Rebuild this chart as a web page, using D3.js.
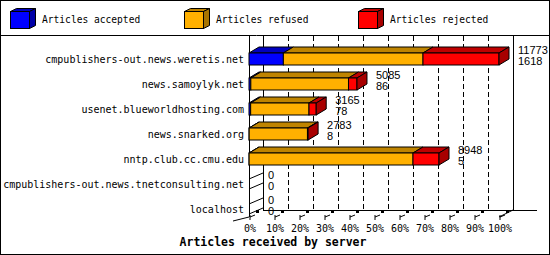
<!DOCTYPE html>
<html>
<head>
<meta charset="utf-8">
<script src="https://cdn.jsdelivr.net/npm/d3@7"></script>
<style>
body { margin: 0; background: #fff; }
text { font-family: "DejaVu Sans Mono", monospace; }
</style>
</head>
<body>
<div id="container"></div>
<script>
// data
var hosts = ["cmpublishers-out.news.weretis.net", "news.samoylyk.net", "usenet.blueworldhosting.com",
	"news.snarked.org", "nntp.club.cc.cmu.edu", "cmpublishers-out.news.tnetconsulting.net", "localhost"];
var offered  = [11773, 5085, 3165, 2783, 8948, 0, 0];
var accepted = [1618, 86, 78, 8, 5, 0, 0];
var refused  = [6576, 4599, 2747, 2745, 7718, 0, 0];
var rejected = [3579, 400, 340, 30, 1225, 0, 0];
var tickPercents = [0, 10, 20, 30, 40, 50, 60, 70, 80, 90, 100];
var legendLabels = ["Articles accepted", "Articles refused", "Articles rejected"];
var keys = ["accepted", "refused", "rejected"];

// colors: front / top / side
var colors = {
	accepted: {front: "#0000ff", top: "#0000bf", side: "#0000a8"},
	refused:  {front: "#ffb000", top: "#bf8400", side: "#a87400"},
	rejected: {front: "#ff0000", top: "#bf0000", side: "#a80000"}
};

var W = 550, H = 255;
var left = 249, right = 499, dx = 14, dy = 7;   // chart depth
var bdx = 10, bdy = 6, bh = 6;                  // bar depth and half height
var plotTop = 36, floorY = 210;

var svg = d3.select("#container").append("svg")
	.attr("width", W)
	.attr("height", H)
	.style("display", "block");

// frame
svg.append("rect").attr("x", 0.5).attr("y", 0.5).attr("width", W - 1).attr("height", H - 1)
	.attr("fill", "#fff").attr("stroke", "#000");
svg.append("line").attr("x1", 0).attr("x2", W).attr("y1", 35.5).attr("y2", 35.5).attr("stroke", "#000");

// legend
var legend = svg.selectAll(".legend")
	.data(keys).enter()
	.append("g")
		.attr("class", "legend")
		.attr("transform", function(d, i) { return "translate(" + (10 + i * 174) + ",0)"; });

legend.append("polygon")
	.attr("points", "0.5,11.5 6.5,8.5 25.5,8.5 19.5,11.5")
	.attr("fill", function(d) { return colors[d].top; }).attr("stroke", "#000");
legend.append("polygon")
	.attr("points", "19.5,11.5 25.5,8.5 25.5,25.5 19.5,28.5")
	.attr("fill", function(d) { return colors[d].side; }).attr("stroke", "#000");
legend.append("rect")
	.attr("x", 0.5).attr("y", 11.5).attr("width", 19).attr("height", 17)
	.attr("fill", function(d) { return colors[d].front; }).attr("stroke", "#000");
legend.append("text")
	.attr("x", 32).attr("y", 20)
	.attr("dy", "0.35em")
	.style("font-size", "9.6px")
	.text(function(d, i) { return legendLabels[i]; });

// scales
var x = d3.scaleLinear().domain([0, 100]).range([left, right]);
var xv = d3.scaleLinear().domain([0, d3.max(offered)]).range([left, right]);
var y = d3.scalePoint().domain(hosts).range([59, 209]);

// back wall grid
svg.selectAll(".grid")
	.data(tickPercents.slice(1, -1)).enter()
	.append("line")
		.attr("class", "grid")
		.attr("x1", function(d) { return Math.round(x(d)) + dx + 0.5; })
		.attr("x2", function(d) { return Math.round(x(d)) + dx + 0.5; })
		.attr("y1", plotTop).attr("y2", floorY)
		.attr("stroke", "#000")
		.attr("stroke-dasharray", "5,3");

// walls
svg.append("line").attr("x1", left + dx + 0.5).attr("x2", left + dx + 0.5)
	.attr("y1", plotTop).attr("y2", floorY).attr("stroke", "#000");
svg.append("line").attr("x1", right + dx + 0.5).attr("x2", right + dx + 0.5)
	.attr("y1", plotTop).attr("y2", floorY).attr("stroke", "#000");
svg.append("line").attr("x1", left + 0.5).attr("x2", left + 0.5)
	.attr("y1", plotTop).attr("y2", floorY + dy).attr("stroke", "#000");
svg.append("line").attr("x1", left + dx).attr("x2", 537)
	.attr("y1", floorY + 0.5).attr("y2", floorY + 0.5).attr("stroke", "#000");
svg.append("line").attr("x1", right).attr("x2", right + dx)
	.attr("y1", floorY + dy).attr("y2", floorY).attr("stroke", "#000");
svg.append("line").attr("x1", 233).attr("x2", left)
	.attr("y1", 221).attr("y2", floorY + dy).attr("stroke", "#000");

// category labels
svg.selectAll(".host")
	.data(hosts).enter()
	.append("text")
		.attr("class", "host")
		.attr("x", 244)
		.attr("y", function(d) { return y(d); })
		.attr("dy", "0.35em")
		.style("font-size", "10px")
		.style("text-anchor", "end")
		.text(function(d) { return d; });

// stacked 3d bars
var rows = hosts.map(function(h, i) {
	return {host: h, accepted: accepted[i], refused: refused[i], rejected: rejected[i]};
});
var series = d3.stack().keys(keys)(rows);
var bars = svg.append("g").attr("class", "bars");

series.forEach(function(s) {
	s.forEach(function(d) {
		if (d[1] - d[0] <= 0) return;
		var c = y(d.data.host);
		var x0 = xv(d[0]), x1 = xv(d[1]);
		bars.append("polygon")
			.attr("points", [[x0, c - bh], [x1, c - bh], [x1 + bdx, c - bh - bdy], [x0 + bdx, c - bh - bdy]].join(" "))
			.attr("fill", colors[s.key].top).attr("stroke", "#000");
		bars.append("rect")
			.attr("x", x0).attr("y", c - bh)
			.attr("width", x1 - x0).attr("height", 2 * bh)
			.attr("fill", colors[s.key].front).attr("stroke", "#000");
	});
});

// right side of each bar, or the empty outline when nothing was offered
rows.forEach(function(r, i) {
	var c = y(r.host);
	var lastKey = null;
	keys.forEach(function(k) { if (r[k] > 0) lastKey = k; });
	var xe = xv(offered[i]);
	if (lastKey) {
		bars.append("polygon")
			.attr("points", [[xe, c - bh], [xe + bdx, c - bh - bdy], [xe + bdx, c + bh - bdy], [xe, c + bh]].join(" "))
			.attr("fill", colors[lastKey].side).attr("stroke", "#000");
	} else {
		bars.append("line").attr("x1", xe).attr("y1", c - bh + 1).attr("x2", xe + dx).attr("y2", c - bh - bdy + 1).attr("stroke", "#000");
		bars.append("line").attr("x1", xe).attr("y1", c + bh - 1).attr("x2", xe + dx).attr("y2", c + bh - bdy - 1).attr("stroke", "#000");
	}
	svg.append("text")
		.attr("class", "value")
		.attr("x", xe + 19)
		.attr("y", c - 9)
		.attr("dy", "0.35em")
		.style("font-family", "'Liberation Sans', sans-serif")
		.style("font-size", "11px")
		.text(offered[i]);
	svg.append("text")
		.attr("class", "value")
		.attr("x", xe + 19)
		.attr("y", c + 2.5)
		.attr("dy", "0.35em")
		.style("font-family", "'Liberation Sans', sans-serif")
		.style("font-size", "11px")
		.text(accepted[i]);
});

// x axis
var xAxis = d3.axisBottom(x)
	.tickValues(tickPercents)
	.tickSize(5)
	.tickPadding(5)
	.tickFormat(function(d) { return d + "%"; });

var axis = svg.append("g")
	.attr("class", "x axis")
	.attr("transform", "translate(0.5,215)")
	.call(xAxis);
axis.select(".domain").remove();
axis.selectAll("text").style("font-family", "'DejaVu Sans Mono', monospace").style("font-size", "10px").attr("fill", "#000");
axis.selectAll(".tick line").attr("stroke", "#000");
axis.selectAll(".tick").append("line")
	.attr("x1", 0).attr("y1", 2).attr("x2", 5).attr("y2", 0).attr("stroke", "#000");
axis.selectAll(".tick").append("rect")
	.attr("x", 6).attr("y", -5).attr("width", 3).attr("height", 3).attr("fill", "#000");

svg.append("text")
	.attr("x", 273)
	.attr("y", 242)
	.attr("dy", "0.35em")
	.style("text-anchor", "middle")
	.style("font-size", "11.5px")
	.style("font-weight", "bold")
	.text("Articles received by server");
</script>
</body>
</html>
